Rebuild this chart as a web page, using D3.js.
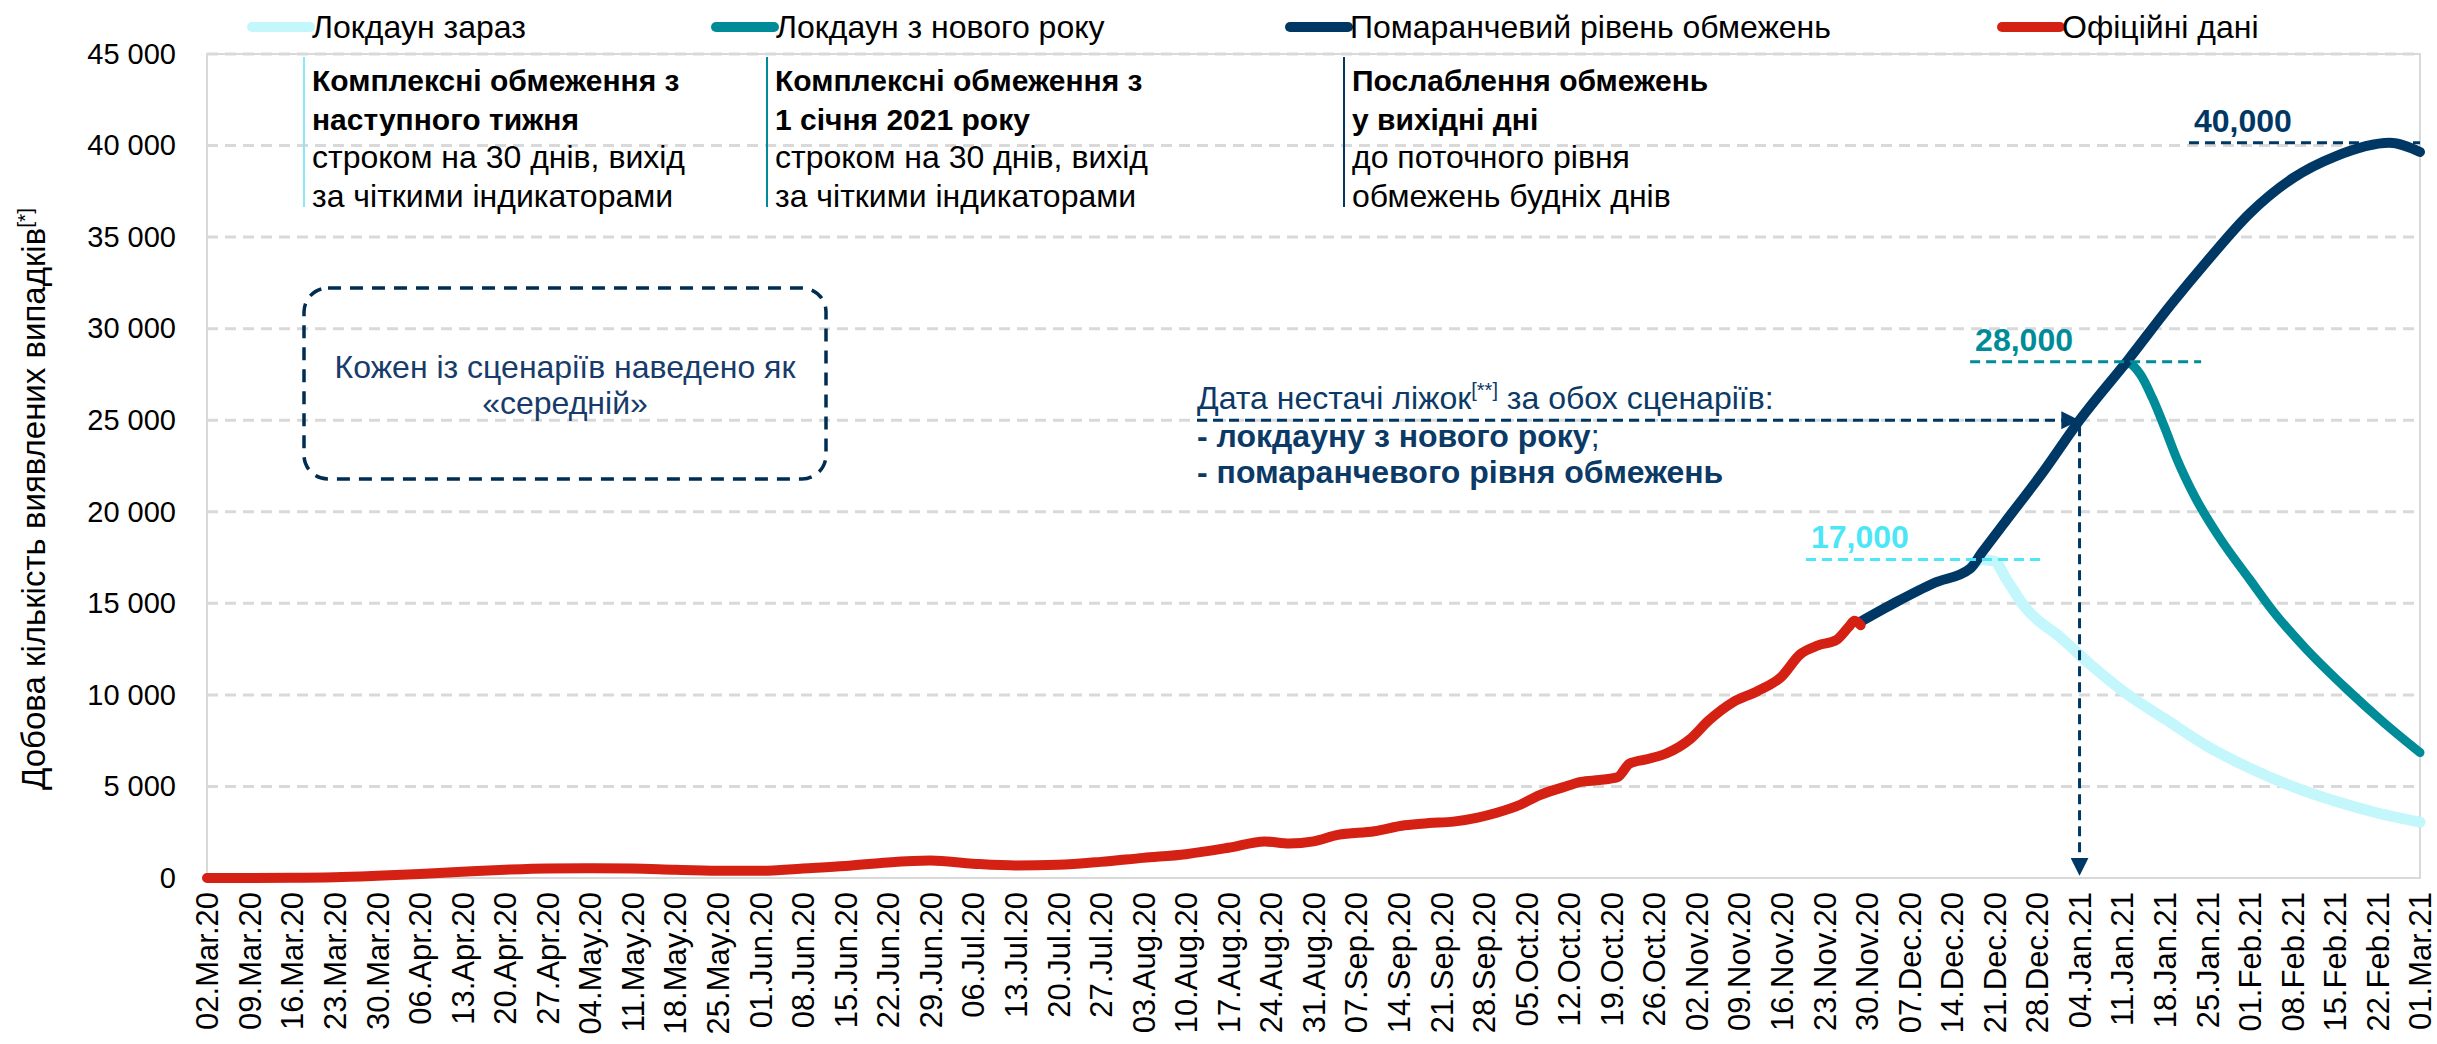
<!DOCTYPE html>
<html>
<head>
<meta charset="utf-8">
<script src="https://cdn.jsdelivr.net/npm/d3@7"></script>
<style>
  body { margin: 0; background: #fff; }
  svg { font-family: "Liberation Sans", Arial, sans-serif; }
</style>
</head>
<body>
<svg id="chart" width="2437" height="1044"></svg>
<script>
// official daily cases
const official = [
    ["2020-03-02", 0], ["2020-03-16", 10], ["2020-03-23", 40], ["2020-03-30", 120],
    ["2020-04-06", 220], ["2020-04-13", 340], ["2020-04-20", 450], ["2020-04-27", 520],
    ["2020-05-04", 530], ["2020-05-11", 520], ["2020-05-18", 450], ["2020-05-25", 400],
    ["2020-06-01", 390], ["2020-06-08", 520], ["2020-06-15", 650], ["2020-06-22", 850],
    ["2020-06-29", 950], ["2020-07-06", 780], ["2020-07-13", 680], ["2020-07-20", 720],
    ["2020-07-27", 880], ["2020-08-03", 1100], ["2020-08-10", 1300], ["2020-08-17", 1650],
    ["2020-08-23", 2000], ["2020-08-27", 1880], ["2020-08-31", 2000], ["2020-09-04", 2350],
    ["2020-09-10", 2550], ["2020-09-15", 2880], ["2020-09-19", 3000], ["2020-09-23", 3080],
    ["2020-09-27", 3300], ["2020-09-30", 3550], ["2020-10-04", 4000], ["2020-10-07", 4500],
    ["2020-10-11", 4950], ["2020-10-14", 5250], ["2020-10-17", 5350], ["2020-10-20", 5500],
    ["2020-10-22", 6250], ["2020-10-25", 6500], ["2020-10-28", 6800], ["2020-11-01", 7600],
    ["2020-11-04", 8600], ["2020-11-08", 9600], ["2020-11-12", 10200], ["2020-11-16", 11000],
    ["2020-11-19", 12200], ["2020-11-22", 12700], ["2020-11-25", 13000], ["2020-11-27", 13700],
    ["2020-11-28", 14050], ["2020-11-29", 13800]
];

// "orange level" scenario
const orangeLevel = [
    ["2020-11-29", 14000], ["2020-12-05", 15100], ["2020-12-11", 16100], ["2020-12-17", 16900],
    ["2020-12-19", 17800], ["2020-12-23", 19550], ["2020-12-29", 22170], ["2021-01-04", 25000],
    ["2021-01-12", 28300], ["2021-01-19", 31300], ["2021-01-25", 33700], ["2021-02-01", 36300],
    ["2021-02-08", 38200], ["2021-02-15", 39400], ["2021-02-24", 40150], ["2021-03-01", 39650]
];

// lockdown from new year
const lockdownNewYear = [
    ["2021-01-11", 27900], ["2021-01-12", 28100], ["2021-01-14", 27500], ["2021-01-16", 26200],
    ["2021-01-18", 24600], ["2021-01-20", 22900], ["2021-01-23", 20800], ["2021-01-27", 18600],
    ["2021-02-01", 16300], ["2021-02-05", 14500], ["2021-02-10", 12600], ["2021-02-17", 10300],
    ["2021-02-23", 8500], ["2021-03-01", 6850]
];

// lockdown now
const lockdownNow = [
    ["2020-12-17", 16900], ["2020-12-19", 17400], ["2020-12-21", 17300], ["2020-12-23", 16300],
    ["2020-12-26", 14800], ["2021-01-01", 13100], ["2021-01-06", 11600], ["2021-01-12", 10000],
    ["2021-01-18", 8700], ["2021-01-25", 7200], ["2021-02-01", 6000], ["2021-02-08", 5000],
    ["2021-02-15", 4200], ["2021-02-22", 3550], ["2021-03-01", 3050]
];

const yTicks = [0, 5000, 10000, 15000, 20000, 25000, 30000, 35000, 40000, 45000];
const xFirstTick = "2020-03-02";
const xLastTick = "2021-03-01";

const legendNames = ["Локдаун зараз", "Локдаун з нового року", "Помаранчевий рівень обмежень", "Офіційні дані"];
const legendColors = ["#c3f7fb", "#008b99", "#003865", "#d52114"];
const legendX = [252, 716, 1290, 2002];

// peak markers: label, level, dashed line from / to
const peaks = [
    {label: "17,000", value: 17400, from: "2020-11-20", to: "2020-12-29", color: "#4de6f7"},
    {label: "28,000", value: 28200, from: "2020-12-17", to: "2021-01-24", color: "#008b99"},
    {label: "40,000", value: 40150, from: "2021-01-22", to: "2021-03-01", color: "#003865"}
];

const shortageDate = "2021-01-04";
const shortageLevel = 25000;

const parse = d3.timeParse("%Y-%m-%d");
const svg = d3.select("#chart");
const navy = "#003865";
const FS = 32;

const x = d3.scaleTime()
    .domain([parse(xFirstTick), parse(xLastTick)])
    .range([207, 2420]);
const y = d3.scaleLinear()
    .domain([0, 45000])
    .range([878, 54]);

const locale = d3.formatLocale({decimal: ",", thousands: " ", grouping: [3], currency: ["", ""]});

// arrowhead
svg.append("defs").append("marker")
    .attr("id", "arrow")
    .attr("viewBox", "0 0 10 10")
    .attr("refX", 9).attr("refY", 5)
    .attr("markerWidth", 6).attr("markerHeight", 6)
    .attr("markerUnits", "strokeWidth")
    .attr("orient", "auto")
    .append("path")
    .attr("d", "M0,0L10,5L0,10Z")
    .attr("fill", navy);

// grid
svg.append("g").selectAll("line")
    .data(yTicks.filter(d => d > 0))
    .enter().append("line")
    .attr("x1", x.range()[0]).attr("x2", x.range()[1])
    .attr("y1", d => y(d)).attr("y2", d => y(d))
    .attr("stroke", "#d9d9d9")
    .attr("stroke-width", 3)
    .attr("stroke-dasharray", "11,7");

svg.append("rect")
    .attr("x", x.range()[0]).attr("y", y(45000))
    .attr("width", x.range()[1] - x.range()[0])
    .attr("height", y(0) - y(45000))
    .attr("fill", "none")
    .attr("stroke", "#d9d9d9")
    .attr("stroke-width", 2);

// axes
let yAxis = svg.append("g")
    .attr("transform", `translate(${x.range()[0]},0)`)
    .call(d3.axisLeft(y).tickValues(yTicks).tickSize(0).tickPadding(31).tickFormat(locale.format(",d")));
yAxis.select(".domain").remove();
yAxis.selectAll("text")
    .attr("font-size", 29)
    .attr("font-family", "Liberation Sans, Arial, sans-serif")
    .attr("fill", "#000");

let xAxis = svg.append("g")
    .attr("transform", `translate(0,${y(0)})`)
    .call(d3.axisBottom(x)
        .tickValues(d3.timeMonday.range(parse(xFirstTick), d3.timeDay.offset(parse(xLastTick), 1)))
        .tickSize(0)
        .tickFormat(d3.timeFormat("%d.%b.%y")));
xAxis.select(".domain").remove();
xAxis.selectAll("text")
    .attr("font-size", 31)
    .attr("font-family", "Liberation Sans, Arial, sans-serif")
    .attr("fill", "#000")
    .attr("text-anchor", "end")
    .attr("transform", "rotate(-90)")
    .attr("x", -14)
    .attr("y", 0)
    .attr("dy", "0.35em");

// y title
let yTitle = svg.append("text")
    .attr("transform", "translate(45,499) rotate(-90)")
    .attr("text-anchor", "middle")
    .attr("font-size", 33)
    .attr("fill", "#000");
yTitle.append("tspan").text("Добова кількість виявлених випадків");
yTitle.append("tspan").attr("font-size", 21).attr("dy", -13).text("[*]");

// lines
const line = d3.line()
    .x(d => x(parse(d[0])))
    .y(d => y(d[1]))
    .curve(d3.curveMonotoneX);

const series = [
    {data: lockdownNow, color: legendColors[0], width: 11},
    {data: lockdownNewYear, color: legendColors[1], width: 9},
    {data: orangeLevel, color: legendColors[2], width: 10},
    {data: official, color: legendColors[3], width: 10}
];
svg.append("g").selectAll("path")
    .data(series)
    .enter().append("path")
    .attr("d", d => line(d.data))
    .attr("fill", "none")
    .attr("stroke", d => d.color)
    .attr("stroke-width", d => d.width)
    .attr("stroke-linejoin", "round")
    .attr("stroke-linecap", "round");

// peak markers
let pk = svg.append("g").selectAll("g").data(peaks).enter().append("g");
pk.append("line")
    .attr("x1", d => x(parse(d.from))).attr("x2", d => x(parse(d.to)))
    .attr("y1", d => y(d.value)).attr("y2", d => y(d.value))
    .attr("stroke", d => d.color)
    .attr("stroke-width", 3)
    .attr("stroke-dasharray", "10,6");
pk.append("text")
    .attr("x", d => x(parse(d.from)) + 5)
    .attr("y", d => y(d.value) - 11)
    .attr("font-size", 32)
    .attr("font-weight", "bold")
    .attr("fill", d => d.color)
    .text(d => d.label);

// bed shortage arrows
let sx = x(parse(shortageDate)), sy = y(shortageLevel);
svg.append("line")
    .attr("x1", 1197).attr("x2", sx - 2)
    .attr("y1", sy).attr("y2", sy)
    .attr("stroke", navy).attr("stroke-width", 3)
    .attr("stroke-dasharray", "10,6")
    .attr("marker-end", "url(#arrow)");
svg.append("line")
    .attr("x1", sx).attr("x2", sx)
    .attr("y1", sy + 6).attr("y2", y(0) - 4)
    .attr("stroke", navy).attr("stroke-width", 3)
    .attr("stroke-dasharray", "10,6")
    .attr("marker-end", "url(#arrow)");

let callout = svg.append("text")
    .attr("font-size", FS)
    .attr("fill", "#0c3a66");
let c1 = callout.append("tspan").attr("x", 1197).attr("y", 409);
c1.append("tspan").text("Дата нестачі ліжок");
c1.append("tspan").attr("font-size", 20).attr("dy", -12).text("[**]");
c1.append("tspan").attr("dy", 12).text(" за обох сценаріїв:");
let c2 = callout.append("tspan").attr("x", 1197).attr("y", 447);
c2.append("tspan").attr("font-weight", "bold").text("- локдауну з нового року");
c2.append("tspan").text(";");
callout.append("tspan").attr("x", 1197).attr("y", 483)
    .attr("font-weight", "bold")
    .text("- помаранчевого рівня обмежень");

// note box
svg.append("rect")
    .attr("x", 304).attr("y", 288)
    .attr("width", 522).attr("height", 191)
    .attr("rx", 24).attr("ry", 24)
    .attr("fill", "none")
    .attr("stroke", "#002d52")
    .attr("stroke-width", 3.5)
    .attr("stroke-dasharray", "13,9");
svg.append("text")
    .attr("text-anchor", "middle")
    .attr("font-size", FS)
    .attr("fill", "#173b6a")
    .selectAll("tspan")
    .data(["Кожен із сценаріїв наведено як", "«середній»"])
    .enter().append("tspan")
    .attr("x", 565)
    .attr("y", (d, i) => 378 + i * 36)
    .text(d => d);

// scenario notes at the top
const notes = [
    {x: 304, color: "#8be9f5", bold: ["Комплексні обмеження з", "наступного тижня"], text: ["строком на 30 днів, вихід", "за чіткими індикаторами"]},
    {x: 767, color: "#008b99", bold: ["Комплексні обмеження з", "1 січня 2021 року"], text: ["строком на 30 днів, вихід", "за чіткими індикаторами"]},
    {x: 1344, color: navy, bold: ["Послаблення обмежень", "у вихідні дні"], text: ["до поточного рівня", "обмежень будніх днів"]}
];
let ng = svg.append("g").selectAll("g").data(notes).enter().append("g");
ng.append("line")
    .attr("x1", d => d.x).attr("x2", d => d.x)
    .attr("y1", 57).attr("y2", 207)
    .attr("stroke", d => d.color)
    .attr("stroke-width", 2);
ng.each(function(d) {
    let t = d3.select(this).append("text").attr("font-size", FS).attr("fill", "#000");
    d.bold.concat(d.text).forEach((s, i) => {
        t.append("tspan")
            .attr("x", d.x + 8)
            .attr("y", 91 + i * 38.5)
            .attr("font-weight", i < 2 ? "bold" : "normal")
            .attr("font-size", i < 2 ? 30 : FS)
            .text(s);
    });
});

// legend
let lg = svg.append("g").selectAll("g").data(legendNames).enter().append("g")
    .attr("transform", (d, i) => `translate(${legendX[i]},27)`);
lg.append("line")
    .attr("x1", 0).attr("x2", 58)
    .attr("stroke", (d, i) => legendColors[i])
    .attr("stroke-width", 10)
    .attr("stroke-linecap", "round");
lg.append("text")
    .attr("x", 60)
    .attr("dy", "0.35em")
    .attr("font-size", FS)
    .attr("fill", "#000")
    .text(d => d);
</script>
</body>
</html>
